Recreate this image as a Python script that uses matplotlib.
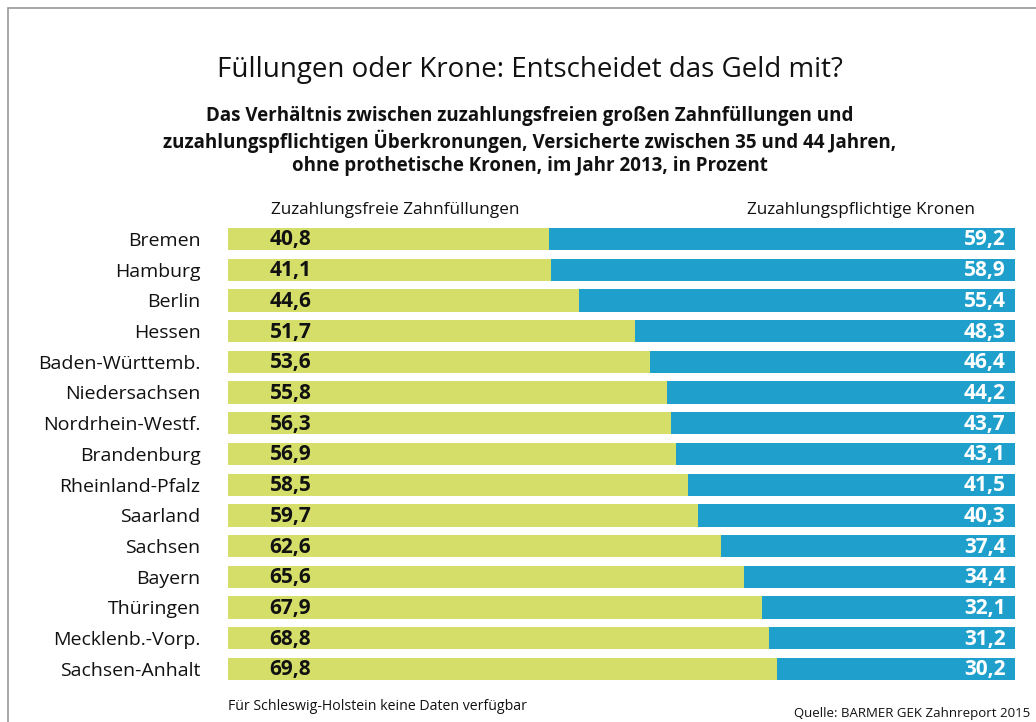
import matplotlib
matplotlib.use("Agg")
import matplotlib.pyplot as plt
from matplotlib.patches import Rectangle

states = ["Bremen", "Hamburg", "Berlin", "Hessen", "Baden-Württemb.", "Niedersachsen",
          "Nordrhein-Westf.", "Brandenburg", "Rheinland-Pfalz", "Saarland", "Sachsen",
          "Bayern", "Thüringen", "Mecklenb.-Vorp.", "Sachsen-Anhalt"]
fillings = [40.8, 41.1, 44.6, 51.7, 53.6, 55.8, 56.3, 56.9, 58.5, 59.7, 62.6, 65.6, 67.9, 68.8, 69.8]
crowns = [59.2, 58.9, 55.4, 48.3, 46.4, 44.2, 43.7, 43.1, 41.5, 40.3, 37.4, 34.4, 32.1, 31.2, 30.2]

def fmt(v):
    return f"{v:.1f}".replace(".", ",")

plt.rcParams['font.family'] = ['Open Sans', 'DejaVu Sans']
W, H = 1036, 722
fig = plt.figure(figsize=(W/100, H/100), dpi=100)

green = "#D4DE69"
blue = "#1FA0CC"

top_px = 239 - 15.35
bot_px = 669 + 15.35
ax = fig.add_axes([228/W, 1 - bot_px/H, (1015-228)/W, (bot_px-top_px)/H])
y = list(range(len(states)))
ax.barh(y, fillings, height=0.73, color=green, left=0)
ax.barh(y, crowns, height=0.73, color=blue, left=fillings)
ax.set_xlim(0, 100)
ax.set_ylim(len(states) - 0.5, -0.5)
ax.axis('off')

for i, (s, f, c) in enumerate(zip(states, fillings, crowns)):
    ax.text(-3.5, i + 0.06, s, ha='right', va='center', fontsize=14, color='#111111')
    ax.text(5.3, i + 0.03, fmt(f), ha='left', va='center', fontsize=15, fontweight='bold', color='#111111')
    ax.text(98.8, i + 0.03, fmt(c), ha='right', va='center', fontsize=15, fontweight='bold', color='white')

fig.text(530/W, 1 - 70/H, "Füllungen oder Krone: Entscheidet das Geld mit?", ha='center', va='center',
         fontsize=20, color='#111111')
subtitle = ("Das Verhältnis zwischen zuzahlungsfreien großen Zahnfüllungen und\n"
            "zuzahlungspflichtigen Überkronungen, Versicherte zwischen 35 und 44 Jahren,\n"
            "ohne prothetische Kronen, im Jahr 2013, in Prozent")
fig.text(530/W, 1 - 141/H, subtitle, ha='center', va='center', fontsize=13.5, fontweight='bold',
         color='#111111', linespacing=1.2)
fig.text(271/W, 1 - 210/H, "Zuzahlungsfreie Zahnfüllungen", ha='left', va='center', fontsize=12.3, color='#111111')
fig.text(975/W, 1 - 210/H, "Zuzahlungspflichtige Kronen", ha='right', va='center', fontsize=12.3, color='#111111')
fig.text(228/W, 1 - 706/H, "Für Schleswig-Holstein keine Daten verfügbar", ha='left', va='center',
         fontsize=10.2, color='#111111')
fig.text(1030/W, 1 - 714/H, "Quelle: BARMER GEK Zahnreport 2015", ha='right', va='center',
         fontsize=9.5, color='#111111')

fig.add_artist(Rectangle((8/W, -0.1), 1.2, 1 - 8/H + 0.1, transform=fig.transFigure,
                         fill=False, edgecolor='#999999', linewidth=1.2))

fig.savefig("out.png", dpi=100)
